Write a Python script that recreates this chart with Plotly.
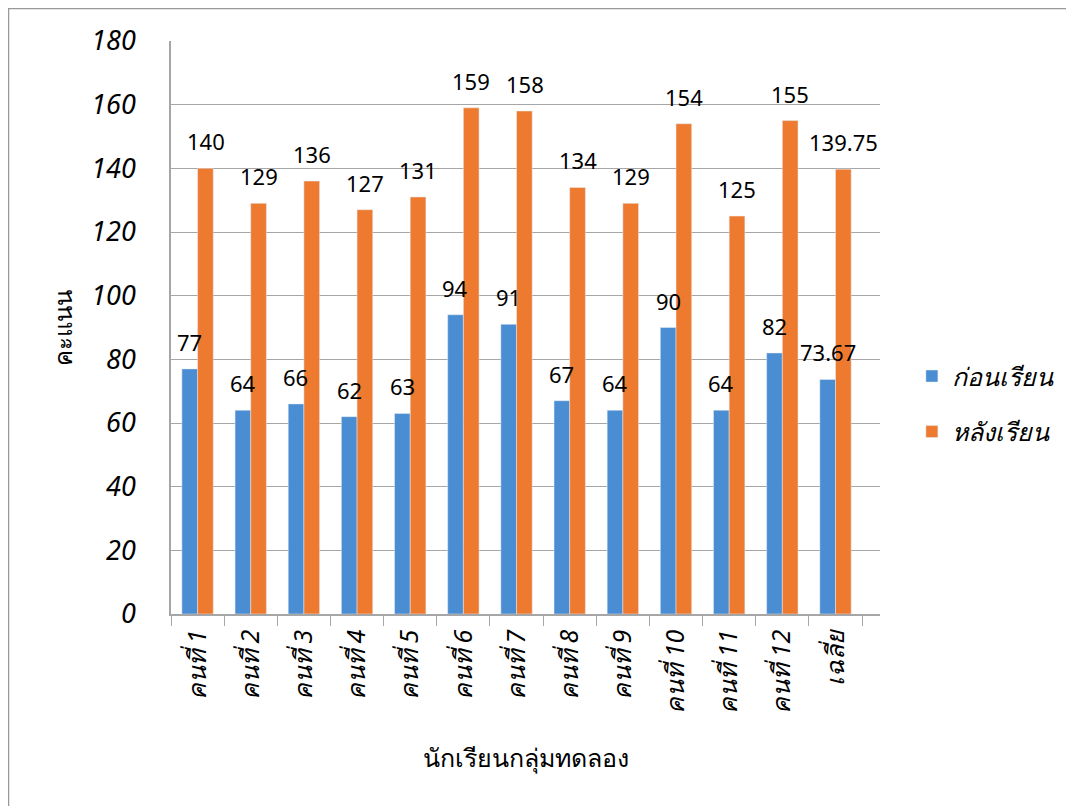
import plotly.graph_objects as go

categories = ["คนที่ 1", "คนที่ 2", "คนที่ 3", "คนที่ 4", "คนที่ 5", "คนที่ 6", "คนที่ 7",
              "คนที่ 8", "คนที่ 9", "คนที่ 10", "คนที่ 11", "คนที่ 12", "เฉลี่ย"]
before = [77, 64, 66, 62, 63, 94, 91, 67, 64, 90, 64, 82, 73.67]
after = [140, 129, 136, 127, 131, 159, 158, 134, 129, 154, 125, 155, 139.75]
series_names = ["ก่อนเรียน", "หลังเรียน"]
y_ticks = [0, 20, 40, 60, 80, 100, 120, 140, 160, 180]

FONT = "Tahoma, 'Noto Sans', 'DejaVu Sans', sans-serif"
BLUE = "#4A8DD2"
ORANGE = "#EE7A30"
GRID = "#A6A6A6"

fig = go.Figure()
fig.add_trace(go.Bar(x=categories, y=before, name=series_names[0], marker_color=BLUE,
                     legendgroup="a"))
fig.add_trace(go.Bar(x=categories, y=after, name=series_names[1], marker_color=ORANGE,
                     legendgroup="b"))


def fmt(v):
    return f"{v:g}"


for vals, shift in ((before, -8), (after, 8)):
    for c, v in zip(categories, vals):
        fig.add_annotation(x=c, y=v, text=fmt(v), showarrow=False, xshift=shift,
                           yshift=27, font=dict(size=22, color="#000000", family=FONT))

# outer frame (plot area is 709 x 573 px, offset l=163, t=33)
fig.add_shape(type="rect", xref="paper", yref="paper",
              x0=-162.5 / 709, x1=1.4, y0=-0.4, y1=32.5 / 573 + 1,
              line=dict(color="#999999", width=1.5), fillcolor="rgba(0,0,0,0)", layer="below")

fig.update_layout(
    width=1074, height=806,
    margin=dict(l=163, r=202, t=33, b=200),
    paper_bgcolor="white", plot_bgcolor="white",
    barmode="group", bargap=0.41, bargroupgap=0,
    font=dict(family=FONT, color="#000000"),
    legend=dict(x=1.045, y=0.455, xanchor="left", yanchor="top",
                font=dict(size=25, family=FONT, style="italic"),
                tracegroupgap=20, traceorder="grouped", itemwidth=30),
    showlegend=True,
)
fig.update_xaxes(
    tickangle=-90, tickfont=dict(size=25, style="italic", family=FONT),
    showline=True, linecolor=GRID, linewidth=1.5,
    ticks="outside", tickson="boundaries", ticklen=10, tickcolor=GRID,
    ticklabelstandoff=4,
    title=dict(text="นักเรียนกลุ่มทดลอง", font=dict(size=25, family=FONT), standoff=37),
)
fig.update_yaxes(
    range=[0, 180], tickvals=y_ticks, showgrid=True, gridcolor=GRID, gridwidth=1,
    showline=True, linecolor=GRID, linewidth=1.5,
    tickfont=dict(size=27, style="italic", family=FONT), ticklabelstandoff=28,
    title=dict(text="คะแนน", font=dict(size=24, family=FONT), standoff=12),
    zeroline=False,
)
fig.write_html("out.html")
